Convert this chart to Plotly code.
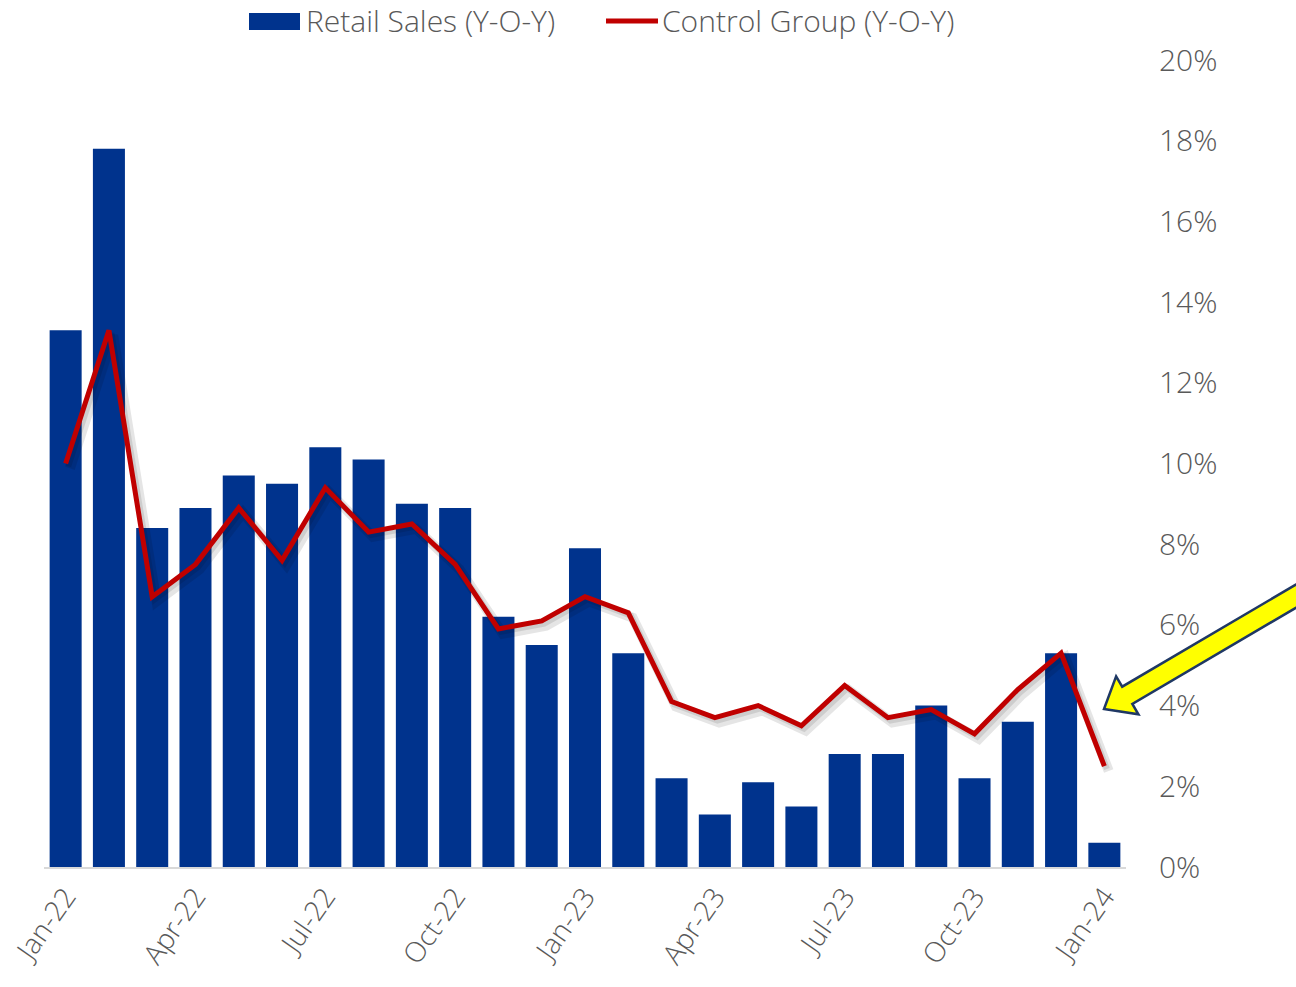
import math
import plotly.graph_objects as go

months = ["Jan-22", "Feb-22", "Mar-22", "Apr-22", "May-22", "Jun-22", "Jul-22", "Aug-22",
          "Sep-22", "Oct-22", "Nov-22", "Dec-22", "Jan-23", "Feb-23", "Mar-23", "Apr-23",
          "May-23", "Jun-23", "Jul-23", "Aug-23", "Sep-23", "Oct-23", "Nov-23", "Dec-23", "Jan-24"]
retail_sales = [13.3, 17.8, 8.4, 8.9, 9.7, 9.5, 10.4, 10.1, 9.0, 8.9, 6.2, 5.5, 7.9, 5.3,
                2.2, 1.3, 2.1, 1.5, 2.8, 2.8, 4.0, 2.2, 3.6, 5.3, 0.6]
control_group = [10.0, 13.3, 6.7, 7.5, 8.9, 7.6, 9.4, 8.3, 8.5, 7.5, 5.9, 6.1, 6.7, 6.3,
                 4.1, 3.7, 4.0, 3.5, 4.5, 3.7, 3.9, 3.3, 4.4, 5.3, 2.5]
tick_labels = ["Jan-22", "Apr-22", "Jul-22", "Oct-22", "Jan-23", "Apr-23", "Jul-23", "Oct-23", "Jan-24"]
y_ticks = [0, 2, 4, 6, 8, 10, 12, 14, 16, 18, 20]

BAR = "#00338D"
RED = "#C00000"
GREY = "#595959"
FONT = "Open Sans"

W, H = 1296, 987
L, R, T, B = 44, 170, 60, 120
PW, PH = W - L - R, H - T - B

def px(x, y):
    return (x - L) / PW, (H - B - y) / PH

idx = list(range(len(months)))
tick_idx = [months.index(t) for t in tick_labels]

fig = go.Figure()
fig.add_trace(go.Bar(x=idx, y=retail_sales, marker=dict(color=BAR, line=dict(width=0)),
                     width=0.74, name="Retail Sales (Y-O-Y)", showlegend=False))
# soft shadow under the line
fig.add_trace(go.Scatter(x=[i + 0.1 for i in idx], y=[v - 0.12 for v in control_group],
                         mode="lines", line=dict(color="rgba(0,0,0,0.10)", width=10),
                         hoverinfo="skip", showlegend=False))
fig.add_trace(go.Scatter(x=[i + 0.06 for i in idx], y=[v - 0.07 for v in control_group],
                         mode="lines", line=dict(color="rgba(0,0,0,0.10)", width=6),
                         hoverinfo="skip", showlegend=False))
fig.add_trace(go.Scatter(x=idx, y=control_group, mode="lines",
                         line=dict(color=RED, width=5), name="Control Group (Y-O-Y)",
                         showlegend=False))

fig.update_xaxes(range=[-0.5, len(months) - 0.5], tickmode="array", tickvals=tick_idx,
                 ticktext=tick_labels, tickangle=-55, showgrid=False, zeroline=False,
                 showline=True, linecolor="#D9D9D9", linewidth=2, ticks="", automargin=False,
                 tickfont=dict(family=FONT, size=28, color=GREY, weight=300))
fig.update_yaxes(range=[0, 20], tickvals=y_ticks, ticktext=[f"{v}%" for v in y_ticks],
                 side="right", showgrid=False, zeroline=False, showline=False, ticks="",
                 ticklabelstandoff=32, automargin=False,
                 tickfont=dict(family=FONT, size=30, color=GREY, weight=300))

# custom legend
x0, y0 = px(249, 13)
x1, y1 = px(300, 30)
shapes = [dict(type="rect", xref="paper", yref="paper", x0=x0, y0=y0, x1=x1, y1=y1,
               fillcolor=BAR, line=dict(width=0))]
lx0, ly = px(606, 21)
lx1, _ = px(658, 21)
shapes.append(dict(type="line", xref="paper", yref="paper", x0=lx0, y0=ly, x1=lx1, y1=ly,
                   line=dict(color=RED, width=5)))

# yellow arrow
tip = (1104, 709)
tail = (1320, 582)
dx, dy = tail[0] - tip[0], tail[1] - tip[1]
ln = math.hypot(dx, dy)
ux, uy = dx / ln, dy / ln
nx, ny = -uy, ux
head_len, head_hw, shaft_hw = 27, 22, 10
bx, by = tip[0] + ux * head_len, tip[1] + uy * head_len
pts = [tip,
       (bx + nx * head_hw, by + ny * head_hw),
       (bx + nx * shaft_hw, by + ny * shaft_hw),
       (tail[0] + nx * shaft_hw, tail[1] + ny * shaft_hw),
       (tail[0] - nx * shaft_hw, tail[1] - ny * shaft_hw),
       (bx - nx * shaft_hw, by - ny * shaft_hw),
       (bx - nx * head_hw, by - ny * head_hw)]
path = "M " + " L ".join(f"{px(*p)[0]:.5f},{px(*p)[1]:.5f}" for p in pts) + " Z"
shapes.append(dict(type="path", xref="paper", yref="paper", path=path,
                   fillcolor="#FFFF00", line=dict(color="#1F3864", width=2.5)))

annotations = [
    dict(xref="paper", yref="paper", x=px(304, 21)[0], y=px(304, 21)[1], text="Retail Sales (Y-O-Y)",
         showarrow=False, xanchor="left", yanchor="middle",
         font=dict(family=FONT, size=30, color=GREY, weight=300)),
    dict(xref="paper", yref="paper", x=px(660, 21)[0], y=px(660, 21)[1], text="Control Group (Y-O-Y)",
         showarrow=False, xanchor="left", yanchor="middle",
         font=dict(family=FONT, size=30, color=GREY, weight=300)),
]

fig.update_layout(width=W, height=H, autosize=False,
                  margin=dict(l=L, r=R, t=T, b=B, pad=0, autoexpand=False),
                  plot_bgcolor="white", paper_bgcolor="white",
                  shapes=shapes, annotations=annotations, bargap=0.26,
                  showlegend=False)
fig.write_html("out.html")
